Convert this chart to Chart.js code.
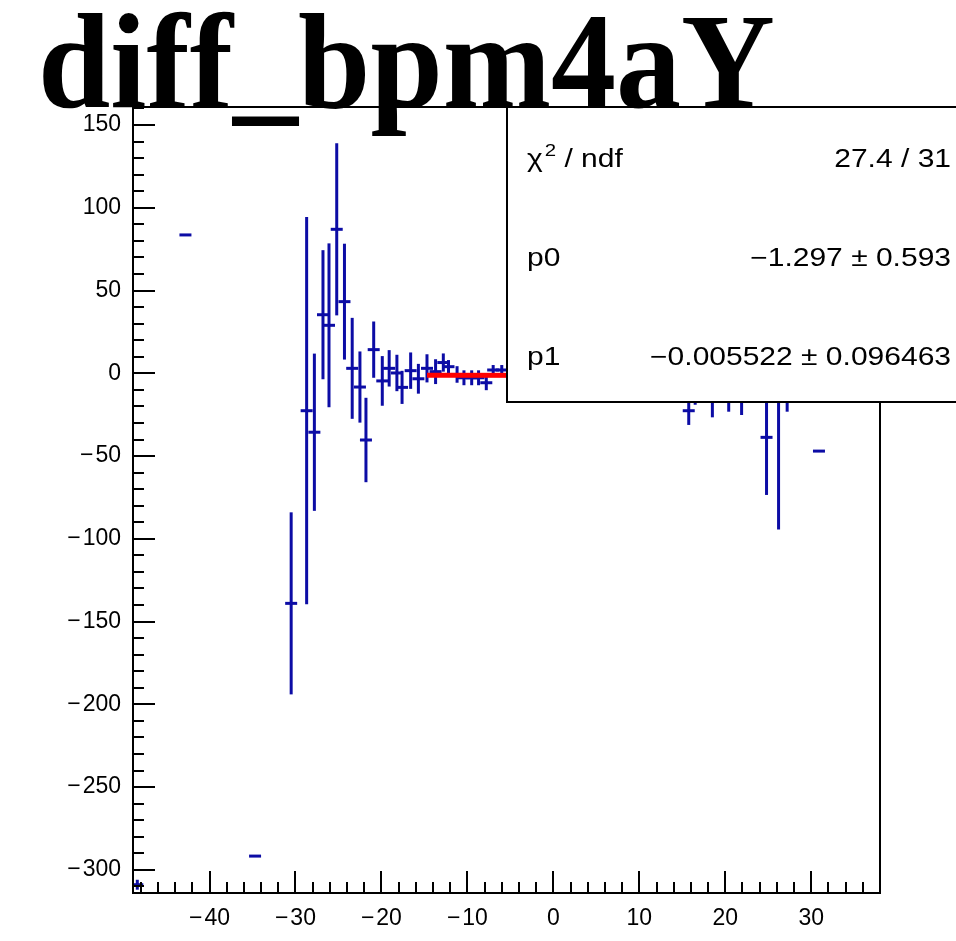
<!DOCTYPE html>
<html><head><meta charset="utf-8">
<script src="https://cdn.jsdelivr.net/npm/chart.js@4.4.1/dist/chart.umd.min.js"></script>
<style>html,body{margin:0;padding:0;background:#fff;overflow:hidden}canvas{display:block}</style>
</head><body>
<canvas id="c" width="956" height="941" style="width:956px;height:941px"></canvas>
<script>
// ---- data ----
const titleText = 'diff_bpm4aY';
const xValues = [-48.4, -42.8, -34.7, -30.5, -28.7, -27.8, -26.8, -26.1, -25.2, -24.3, -23.4, -22.5, -21.8, -20.9, -19.9, -19.1, -18.2, -17.6, -16.6, -15.7, -14.7, -13.7, -12.8, -12.2, -11.2, -10.4, -9.5, -8.7, -7.8, -7.0, -6.0, 15.75, 16.5, 18.5, 20.4, 21.9, 24.8, 26.2, 27.2, 30.9];
const yValues = [-309, 83.6, -291.7, -139, -22.6, -35.6, 35.4, 29, 87, 43.3, 3, -8.3, -40.3, 14.3, -4.6, 3, 0.2, -8.5, 1.6, -3.3, 3, 1, 6.5, 4, -0.7, -2.7, -2.7, -2.7, -5.7, 2, 2, -22.6, -10, -12, -12, -12, -38.7, -12, -12, -47];
const yErrors = [3, 0, 0, 55, 117, 47.5, 39, 49.5, 52, 35, 30.5, 21.5, 25.5, 17, 15, 11, 11, 10, 11, 9, 8.5, 7.5, 5.5, 4, 5, 4.5, 4.5, 4.5, 4.5, 3, 3, 8.6, 9, 14.6, 11.2, 13.2, 34.8, 82.3, 11.2, 0];
const fitX = [-14.7, 15];
const fitY = [-1.22, -1.38];
const xTickValues = [-40, -30, -20, -10, 0, 10, 20, 30];
const yTickValues = [-300, -250, -200, -150, -100, -50, 0, 50, 100, 150];
const statsLabels = ['χ', 'p0', 'p1'];
const statsValues = ['27.4 / 31', '\u22121.297 \u00b1 0.593', '\u22120.005522 \u00b1 0.096463'];
const X_MIN = -48.9, X_MAX = 38.0, Y_MIN = -314, Y_MAX = 160.9;

const BLUE = 'rgb(12,12,165)';
const fmt = v => v < 0 ? '\u2212\u200A' + Math.abs(v) : String(v);

const errorBars = {
  id: 'errorBars',
  beforeDatasetsDraw(chart) {
    const {ctx, chartArea: a, scales: {x, y}} = chart;
    ctx.save();
    ctx.beginPath(); ctx.rect(a.left, a.top, a.right - a.left, a.bottom - a.top); ctx.clip();
    ctx.strokeStyle = BLUE; ctx.lineWidth = 3;
    xValues.forEach((xv, i) => {
      if (!yErrors[i]) return;
      const px = x.getPixelForValue(xv);
      ctx.beginPath();
      ctx.moveTo(px, y.getPixelForValue(yValues[i] - yErrors[i]));
      ctx.lineTo(px, y.getPixelForValue(yValues[i] + yErrors[i]));
      ctx.stroke();
    });
    ctx.restore();
  }
};

function drawScaled(ctx, text, x, y, align, sx) {
  ctx.save(); ctx.translate(x, y); ctx.scale(sx, 1);
  ctx.textAlign = align; ctx.fillText(text, 0, 0); ctx.restore();
}

const decor = {
  id: 'decor',
  afterDraw(chart) {
    const {ctx, chartArea: a, scales: {x, y}} = chart;
    ctx.save();
    // ticks inside frame
    ctx.strokeStyle = '#000'; ctx.lineWidth = 2;
    for (let v = -48; v <= X_MAX; v += 2) {
      const px = Math.round(x.getPixelForValue(v));
      const len = (v % 10 === 0) ? 22 : 11;
      ctx.beginPath(); ctx.moveTo(px, a.bottom); ctx.lineTo(px, a.bottom - len); ctx.stroke();
    }
    for (let v = -310; v <= Y_MAX; v += 10) {
      const py = Math.round(y.getPixelForValue(v));
      const len = (v % 50 === 0) ? 22 : 11;
      ctx.beginPath(); ctx.moveTo(a.left, py); ctx.lineTo(a.left + len, py); ctx.stroke();
    }
    // frame
    ctx.strokeRect(a.left, a.top, a.right - a.left, a.bottom - a.top);
    // stats box
    const bx = 507, by = a.top, bw = 460, bh = 295;
    ctx.fillStyle = '#fff'; ctx.fillRect(bx, by, bw, bh);
    ctx.lineWidth = 2; ctx.strokeRect(bx, by, bw, bh);
    ctx.fillStyle = '#000';
    ctx.font = '25px "Liberation Sans", Arial, sans-serif';
    ctx.textBaseline = 'alphabetic';
    const sx = 1.2, baselines = [167, 266, 365], rx = 951, lx = 527;
    // row 0 label: chi^2 / ndf
    drawScaled(ctx, statsLabels[0], lx, baselines[0], 'left', sx);
    let w = ctx.measureText(statsLabels[0]).width * sx;
    ctx.font = '17px "Liberation Sans", Arial, sans-serif';
    drawScaled(ctx, '2', lx + w + 2, baselines[0] - 11, 'left', sx);
    const w2 = ctx.measureText('2').width * sx;
    ctx.font = '25px "Liberation Sans", Arial, sans-serif';
    drawScaled(ctx, ' / ndf', lx + w + 2 + w2, baselines[0], 'left', sx);
    drawScaled(ctx, statsLabels[1], lx, baselines[1], 'left', sx);
    drawScaled(ctx, statsLabels[2], lx, baselines[2], 'left', sx);
    statsValues.forEach((t, i) => drawScaled(ctx, t, rx, baselines[i], 'right', sx));
    // title
    ctx.font = 'bold 136px "Liberation Serif", "Times New Roman", serif';
    const tw = ctx.measureText(titleText).width;
    drawScaled(ctx, titleText, 38, 107, 'left', 737 / tw);
    ctx.restore();
  }
};

new Chart(document.getElementById('c'), {
  data: {
    datasets: [
      {
        type: 'line', label: 'fit', order: 0,
        data: fitX.map((v, i) => ({x: v, y: fitY[i]})),
        borderColor: 'rgb(255,0,0)', borderWidth: 5, pointRadius: 0, fill: false
      },
      {
        type: 'scatter', label: 'diff_bpm4aY', order: 1,
        data: xValues.map((v, i) => ({x: v, y: yValues[i]})),
        pointStyle: 'line', pointRadius: 6, pointBorderWidth: 3,
        borderColor: BLUE, backgroundColor: BLUE
      }
    ]
  },
  options: {
    responsive: false, animation: false, devicePixelRatio: 1,
    layout: {padding: {top: 107, right: 76, left: 0, bottom: 0}},
    plugins: {legend: {display: false}, tooltip: {enabled: false}, title: {display: false}},
    scales: {
      x: {
        type: 'linear', min: X_MIN, max: X_MAX,
        grid: {display: false, drawTicks: false}, border: {display: false},
        afterBuildTicks: s => { s.ticks = xTickValues.map(v => ({value: v})); },
        afterFit: s => { s.height = 48; },
        ticks: {padding: 12, color: '#000', maxRotation: 0, autoSkip: false,
          font: {family: '"Liberation Sans", Arial, sans-serif', size: 23},
          callback: v => fmt(v)}
      },
      y: {
        type: 'linear', min: Y_MIN, max: Y_MAX,
        grid: {display: false, drawTicks: false}, border: {display: false},
        afterBuildTicks: s => { s.ticks = yTickValues.map(v => ({value: v})); },
        afterFit: s => { s.width = 133; },
        ticks: {padding: 12, color: '#000', autoSkip: false,
          font: {family: '"Liberation Sans", Arial, sans-serif', size: 23},
          callback: v => fmt(v)}
      }
    }
  },
  plugins: [errorBars, decor]
});
</script>
</body></html>
